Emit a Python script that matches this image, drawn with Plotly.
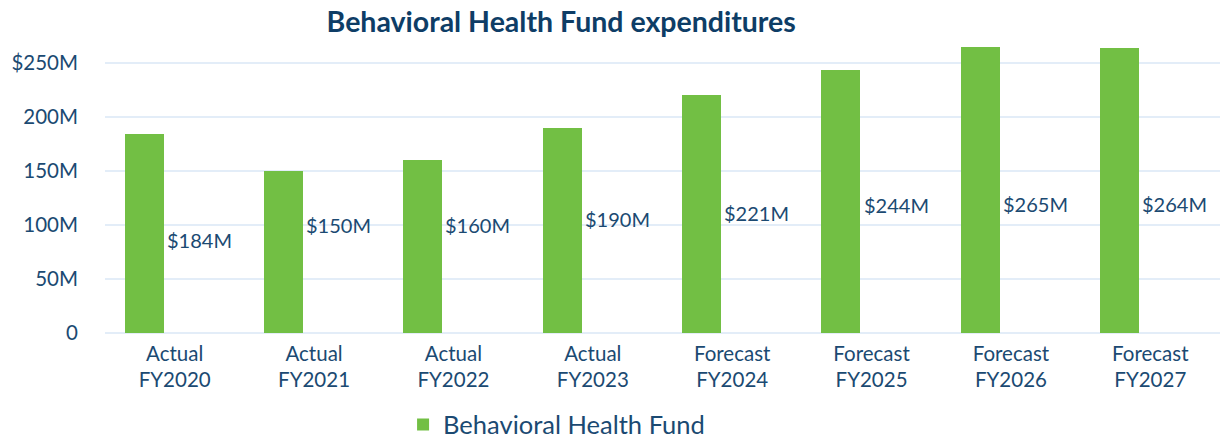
import plotly.graph_objects as go

periods = ["Actual", "Actual", "Actual", "Actual", "Forecast", "Forecast", "Forecast", "Forecast"]
years = ["FY2020", "FY2021", "FY2022", "FY2023", "FY2024", "FY2025", "FY2026", "FY2027"]
values = [184, 150, 160, 190, 221, 244, 265, 264]
value_labels = ["$184M", "$150M", "$160M", "$190M", "$221M", "$244M", "$265M", "$264M"]
label_heights = [86, 100, 100, 106, 111, 119, 120, 120]
tick_vals = [0, 50, 100, 150, 200, 250]
tick_text = ["0", "50M", "100M", "150M", "200M", "$250M"]

categories = [f"{p}<br>{y}" for p, y in zip(periods, years)]

navy = "#1B4A72"
green = "#72BF44"
grid = "#E3EDF8"

fig = go.Figure()
fig.add_trace(go.Bar(
    x=categories, y=values, name="Behavioral Health Fund",
    marker=dict(color=green, line=dict(width=0)),
    width=0.28, offset=-0.36,
))

for c, lab, h in zip(categories, value_labels, label_heights):
    fig.add_annotation(x=c, y=h, text=lab, showarrow=False, xanchor="left",
                       yanchor="middle", xshift=-10,
                       font=dict(size=20, color=navy, family="Lato"))

fig.update_layout(
    width=1228, height=439,
    margin=dict(l=105, r=8, t=46, b=106, autoexpand=False),
    paper_bgcolor="white", plot_bgcolor="white",
    font=dict(family="Lato", color=navy),
    title=dict(text="<b>Behavioral Health Fund expenditures</b>", x=0.457, xanchor="center",
               y=0.95, yanchor="middle", font=dict(size=28.5, color="#0E3D66", family="Lato")),
    showlegend=True,
    legend=dict(orientation="h", x=0.405, xanchor="center", y=-0.32, yanchor="middle",
                font=dict(size=25.5, color=navy), itemwidth=30),
    bargap=0,
)
fig.update_xaxes(showgrid=False, showline=False, ticks="", tickfont=dict(size=20.5, color=navy),
                 ticklabelstandoff=6, automargin=False)
fig.update_yaxes(range=[0, 266], tickvals=tick_vals, ticktext=tick_text, showgrid=True,
                 gridcolor=grid, gridwidth=2, zeroline=True, zerolinecolor=grid, zerolinewidth=2,
                 tickfont=dict(size=20.5, color=navy), ticklabelstandoff=26, showline=False,
                 automargin=False)

fig.write_html("out.html", config={"displayModeBar": False},
               post_script="document.body.style.margin='0px';document.body.style.overflow='hidden';")
